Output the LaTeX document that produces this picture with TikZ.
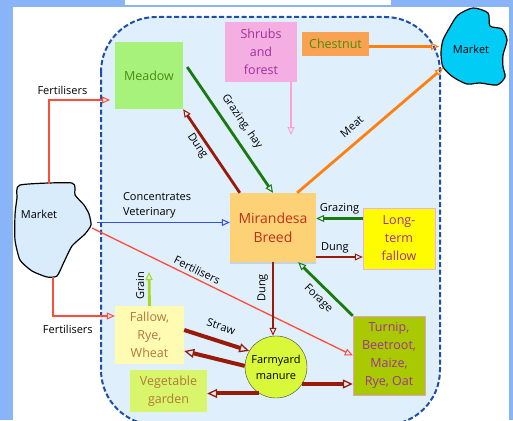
\documentclass[tikz,border=0pt]{standalone}
\usepackage{fontspec}
\setmainfont{Open Sans}
\usetikzlibrary{arrows.meta, shadows}

\definecolor{framebg}{HTML}{8AB4F8}
\definecolor{farmbg}{HTML}{DFEFFC}
\definecolor{farmline}{HTML}{1E4FA8}
\definecolor{mktleft}{HTML}{D8ECFB}
\definecolor{mktright}{HTML}{00CCF5}
\definecolor{fertc}{HTML}{FF4B3A}
\definecolor{concc}{HTML}{3050F0}
\definecolor{dungc}{HTML}{9A1A0A}
\definecolor{grazc}{HTML}{1A7A10}
\definecolor{shrubc}{HTML}{F7A3D6}
\definecolor{orangec}{HTML}{FF7F10}
\definecolor{grainc}{HTML}{A8D820}
\definecolor{purpletext}{HTML}{A0309A}
\definecolor{olivetext}{HTML}{4A8A10}
\definecolor{browntext}{HTML}{B07A3A}

\tikzstyle{block} = [rectangle, align=center, inner sep=2pt, font=\fontsize{12.5}{18}\selectfont]
\tikzstyle{tag} = [font=\fontsize{11}{15}\selectfont, inner sep=1.5pt]
\tikzstyle{flow} = [-{Triangle[open, length=8pt, width=7pt, line width=1pt]}]
\tikzstyle{heavy} = [draw=dungc, line width=4pt, -{Triangle[open, length=10pt, width=9pt, line width=1.3pt]}]

\begin{document}
\begin{tikzpicture}[x=1pt, y=-1pt]
  \useasboundingbox (0,0) rectangle (513,420);
  \clip (0,0) rectangle (513,420);
  % page frame
  \fill[framebg] (0,0) rectangle (513,420);
  \fill[white] (13,7) rectangle (509,420);
  \fill[white] (125,0) rectangle (391,5);
  % farm boundary
  \draw[farmline, fill=farmbg, line width=2pt, dash pattern=on 5pt off 2.5pt,
        rounded corners=55pt] (101,17) rectangle (440,425);

  % markets
  \draw[line width=1.2pt, fill=mktleft] plot[smooth cycle, tension=0.35] coordinates {
    (20,185) (72,183) (75,195) (84,205) (89,214) (91,225) (85,234) (72,246)
    (64,262) (57,276) (47,277) (32,271) (20,260) (15,240) (15,215) (17,198)};
  \node[tag] (marketL) at (39,214) {Market};
  \draw[line width=1.2pt, fill=mktright] plot[smooth cycle, tension=0.45] coordinates {
    (458,15) (473,8) (488,13) (490,26) (502,29) (507,40) (503,55) (503,67)
    (505,77) (497,85) (480,83) (467,84) (453,77) (443,67) (441,53) (443,40) (450,27)};
  \node[tag] (marketR) at (471,49) {Market};
  \coordinate (mL-n) at (49,184);
  \coordinate (mL-s) at (53,277);
  \coordinate (mL-e) at (97,222.5);
  \coordinate (mL-se) at (92,228);
  \coordinate (mR-w) at (439,46.5);
  \coordinate (mR-sw) at (443,68);
  \coordinate (farm-in) at (110,100);
  \coordinate (shrub-end) at (291,135);
  \coordinate (grain-end) at (149,272);

  % farm units
  \node[block, fill={rgb,255:red,166;green,242;blue,122}, text=olivetext,
        minimum width=68pt, minimum height=67pt] (meadow) at (149,75.5) {Meadow};
  \node[block, fill={rgb,255:red,244;green,174;blue,226}, text=purpletext,
        minimum width=72pt, minimum height=60pt] (shrubs) at (261,52) {Shrubs\\and\\forest};
  \node[block, fill={rgb,255:red,249;green,163;blue,82}, text=olivetext,
        minimum width=67pt, minimum height=24pt] (chestnut) at (335.5,44) {Chestnut};
  \node[block, fill={rgb,255:red,253;green,210;blue,119}, text={rgb,255:red,192;green,48;blue,24},
        font=\fontsize{14}{19}\selectfont, minimum width=86pt, minimum height=69pt,
        drop shadow={shadow xshift=0pt, shadow yshift=-2pt, opacity=0.25}] (mirandesa) at (273,227.5) {Mirandesa\\Breed};
  \node[block, fill={rgb,255:red,255;green,251;blue,0}, draw={rgb,255:red,232;green,176;blue,240},
        text=purpletext, minimum width=72pt, minimum height=61pt] (ltfallow) at (399,238.5) {Long-\\term\\fallow};
  \node[block, fill={rgb,255:red,169;green,201;blue,0}, draw={rgb,255:red,224;green,160;blue,208},
        text=purpletext, minimum width=72pt, minimum height=79pt] (turnip) at (389,355.5) {Turnip,\\Beetroot,\\Maize,\\Rye, Oat};
  \node[block, fill={rgb,255:red,255;green,251;blue,179}, text=browntext,
        minimum width=69pt, minimum height=58pt] (fallow) at (149.5,335) {Fallow,\\Rye,\\Wheat};
  \node[block, fill={rgb,255:red,217;green,245;blue,107}, text=browntext,
        minimum width=77pt, minimum height=42pt] (vegetable) at (168.5,391) {Vegetable\\garden};
  \node[circle, draw=darkgray, fill={rgb,255:red,217;green,248;blue,58}, align=center,
        font=\fontsize{11}{16}\selectfont, minimum size=62pt, inner sep=0pt] (manure) at (276,367) {Farmyard\\manure};

  % flows from the markets
  \draw[flow, fertc, line width=1.3pt] (mL-n) |- (farm-in) node[tag, black, pos=0.61, above=3pt] {Fertilisers};
  \draw[flow, fertc, line width=1.3pt] (mL-s) |- ([yshift=19pt]fallow.west) node[tag, black, pos=0.62, below=7pt] {Fertilisers};
  \draw[flow, concc, line width=1.3pt] (mL-e) -- ([yshift=5pt]mirandesa.west)
    node[tag, black, pos=0.18, anchor=south west, align=left, yshift=2pt] {Concentrates\\Veterinary};
  \draw[flow, fertc, line width=1.3pt] (mL-se) -- (turnip.west) node[tag, black, pos=0.39, above=2pt, sloped] {Fertilisers};

  % flows round the herd
  \draw[flow, dungc, line width=2.8pt] ([xshift=10pt]mirandesa.north west) -- (meadow.south east)
    node[tag, black, pos=0.62, below=1pt, sloped] {Dung};
  \draw[flow, grazc, line width=2.8pt] ([xshift=4pt, yshift=8.5pt]meadow.east) -- (mirandesa.north)
    node[tag, black, pos=0.5, above=6pt, sloped] {Grazing, hay};
  \draw[flow, shrubc, line width=2pt] (shrubs.south -| shrub-end) -- (shrub-end);
  \draw[flow, orangec, line width=2.8pt] ([yshift=-2.5pt]chestnut.east) -- (mR-w);
  \draw[flow, orangec, line width=2.8pt] ([xshift=-19pt]mirandesa.north east) -- (mR-sw)
    node[tag, black, pos=0.44, above=8pt, sloped] {Meat};
  \draw[flow, grazc, line width=2.5pt] ([yshift=20pt]ltfallow.west) -- ([yshift=20pt]ltfallow.west -| mirandesa.east)
    node[tag, black, midway, above=2pt] {Grazing};
  \draw[flow, dungc, line width=1.3pt] ([yshift=-29.5pt]mirandesa.east) -- ([yshift=-29.5pt]mirandesa.east -| ltfallow.west)
    node[tag, black, pos=0.4, above=2pt] {Dung};
  \draw[flow, grazc, line width=2.8pt] (turnip.north west) -- ([xshift=-18pt]mirandesa.south east)
    node[tag, black, pos=0.48, below=4pt, sloped] {Forage};
  \draw[flow, dungc, line width=2.8pt] (mirandesa.south) -- (mirandesa.south |- manure.north)
    node[tag, black, pos=0.35, rotate=90, anchor=south, yshift=2pt] {Dung};
  \draw[flow, grainc, line width=2.8pt] (fallow.north) -- (grain-end)
    node[tag, black, pos=0.59, rotate=90, anchor=south, yshift=2pt] {Grain};

  % farmyard manure
  \draw[heavy] ([yshift=5pt]fallow.east) -- (manure.149) node[tag, black, midway, above=7pt, sloped] {Straw};
  \draw[heavy] (manure.178) -- ([yshift=-16pt]fallow.east);
  \draw[heavy] (manure.238) -- (manure.238 -| vegetable.east);
  \draw[heavy] (manure.-33) -- (manure.-33 -| turnip.west);
\end{tikzpicture}
\end{document}
